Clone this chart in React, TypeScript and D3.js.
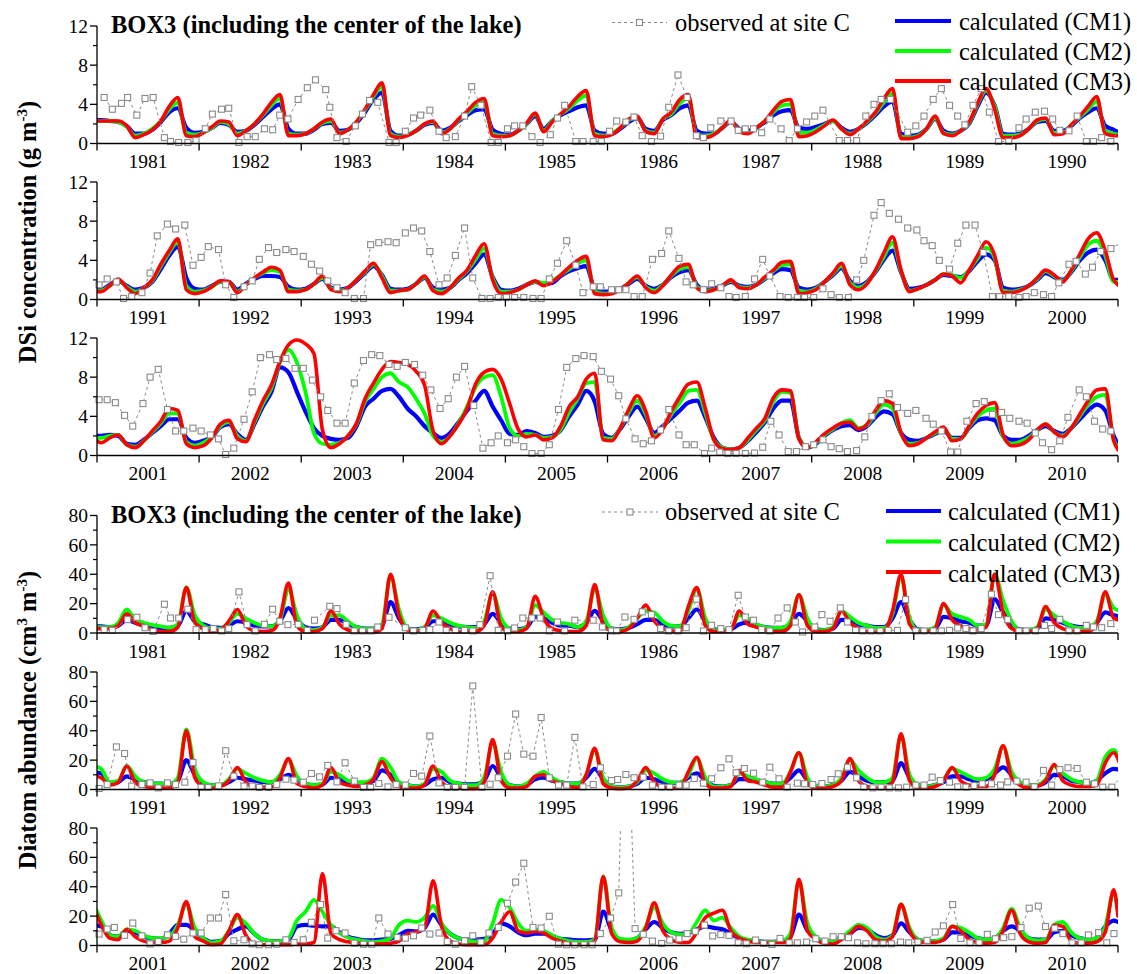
import React from "react";
import * as d3 from "d3";

// ---------- layout ----------
const W = 1137;
const H = 974;
const X0 = 97;
const X1 = 1118;
const PH = 117.5;
const FONT = '"Liberation Serif", "Times New Roman", Times, serif';
const BLUE = "#0000ff";
const GREEN = "#00ff00";
const RED = "#ff0000";
const OBS = "#8a8a8a";

// ---------- data ----------
const START_YEAR = 1981;
const END_YEAR = 2011;
const decadeStarts = [1981, 1991, 2001];
const dsiPanelTops = [26, 182, 338];
const diaPanelTops = [515.5, 672, 828];

const dsiTicks = [0, 4, 8, 12];
const dsiMinorTicks = [2, 6, 10];
const diaTicks = [0, 20, 40, 60, 80];
const diaMinorTicks = [10, 30, 50, 70];

// DSi concentration (g m-3), monthly Jan..Dec, 1981-2010
const dsiCM1 = [
  2.4, 2.3, 2.2, 1.8, 1.0, 1.0, 1.4, 2.2, 3.2, 3.6, 1.6, 1.1,
  1.2, 1.6, 2.1, 1.9, 1.2, 1.3, 1.9, 2.7, 3.5, 4.0, 1.5, 1.0,
  1.0, 1.4, 2.0, 2.1, 1.3, 1.4, 2.1, 3.2, 4.5, 5.2, 1.3, 0.8,
  0.9, 1.3, 1.9, 2.1, 1.3, 1.6, 2.3, 2.9, 3.4, 3.5, 1.4, 1.0,
  0.9, 1.3, 2.0, 2.8, 1.5, 2.3, 2.9, 3.3, 3.7, 3.9, 1.3, 1.0,
  1.0, 1.5, 2.2, 2.6, 1.5, 1.3, 2.4, 2.9, 3.6, 3.9, 1.3, 1.0,
  1.0, 1.6, 2.2, 1.5, 1.3, 1.6, 2.2, 2.9, 3.3, 3.4, 1.6, 1.5,
  1.7, 2.0, 2.3, 1.6, 1.2, 1.5, 2.1, 2.9, 3.8, 4.3, 1.0, 0.8,
  0.9, 1.5, 2.5, 1.3, 1.0, 1.3, 2.0, 3.8, 5.2, 3.9, 1.0, 0.9,
  1.0, 1.5, 2.2, 2.3, 1.3, 1.3, 1.8, 2.6, 3.2, 3.6, 1.8, 1.4,
  1.0, 1.5, 1.9, 1.4, 1.0, 1.2, 1.8, 3.1, 4.5, 5.4, 2.2, 1.1,
  1.0, 1.4, 1.8, 1.8, 1.0, 1.6, 2.1, 2.4, 2.4, 2.3, 1.3, 1.0,
  1.1, 1.6, 2.1, 1.2, 1.0, 1.2, 1.9, 2.7, 3.4, 2.5, 1.1, 1.0,
  1.1, 1.6, 2.2, 1.2, 1.0, 1.2, 2.0, 2.7, 3.7, 4.6, 2.3, 1.0,
  0.9, 1.1, 1.5, 1.8, 1.6, 1.7, 2.4, 2.9, 3.2, 3.4, 1.1, 0.8,
  0.8, 1.1, 1.6, 2.1, 1.4, 1.1, 1.5, 2.3, 2.8, 3.0, 1.5, 1.0,
  1.1, 1.4, 1.8, 1.4, 1.3, 1.5, 2.1, 2.7, 3.1, 3.0, 1.2, 1.0,
  1.2, 1.8, 2.5, 3.2, 1.9, 1.4, 1.8, 2.8, 4.1, 5.0, 2.8, 1.1,
  1.2, 1.5, 2.0, 2.5, 2.4, 2.3, 2.9, 3.9, 4.6, 4.0, 1.2, 1.0,
  1.1, 1.4, 2.0, 2.7, 2.3, 2.0, 2.8, 4.0, 4.8, 5.1, 4.0, 2.0,
  2.0, 2.1, 2.0, 1.2, 1.1, 1.6, 2.3, 3.0, 3.7, 3.7, 1.8, 1.3,
  1.5, 1.9, 2.9, 3.2, 2.2, 1.6, 3.2, 5.0, 6.5, 9.0, 8.5, 6.5,
  4.5, 2.8, 2.0, 1.7, 1.6, 1.8, 3.0, 5.0, 5.8, 6.6, 6.8, 6.0,
  4.8, 4.0, 3.0, 2.3, 1.8, 2.3, 3.4, 4.6, 5.6, 6.6, 5.0, 3.6,
  2.2, 2.1, 2.5, 2.3, 1.9, 2.0, 2.6, 4.0, 5.2, 6.6, 5.5, 2.2,
  1.8, 2.7, 4.0, 5.0, 3.8, 2.3, 3.0, 3.8, 4.6, 5.4, 5.6, 3.9,
  1.8, 0.8, 0.6, 0.8, 1.5, 2.4, 3.4, 4.8, 5.6, 5.6, 1.8, 0.8,
  1.2, 2.0, 2.6, 3.0, 3.1, 2.6, 3.0, 3.9, 4.5, 4.2, 2.3, 1.6,
  1.5, 1.8, 2.2, 2.6, 1.8, 1.8, 2.8, 3.6, 3.8, 3.6, 2.0, 1.6,
  1.6, 2.0, 2.6, 3.0, 2.5, 2.2, 2.8, 3.7, 4.6, 5.2, 4.6, 2.0,
];
const dsiCM2 = [
  2.3, 2.3, 2.2, 1.7, 0.8, 1.0, 1.5, 2.3, 3.5, 4.2, 1.1, 0.9,
  1.1, 1.6, 2.2, 2.0, 1.0, 1.3, 2.0, 2.9, 3.9, 4.6, 1.0, 0.9,
  1.0, 1.5, 2.1, 2.3, 1.1, 1.4, 2.2, 3.4, 4.8, 5.8, 1.0, 0.7,
  0.9, 1.3, 2.0, 2.2, 1.1, 1.5, 2.4, 3.1, 3.9, 4.2, 1.0, 0.8,
  0.8, 1.3, 2.0, 3.0, 1.3, 2.3, 3.0, 3.6, 4.4, 4.9, 1.0, 0.8,
  1.0, 1.6, 2.4, 2.7, 1.3, 1.1, 2.5, 3.0, 4.1, 4.6, 0.9, 0.8,
  1.0, 1.6, 2.3, 1.3, 1.1, 1.6, 2.3, 3.2, 3.9, 4.0, 1.1, 1.1,
  1.4, 1.9, 2.3, 1.5, 1.0, 1.5, 2.2, 3.1, 4.2, 5.1, 0.7, 0.6,
  0.8, 1.5, 2.6, 1.1, 0.9, 1.3, 2.1, 4.0, 5.4, 3.8, 0.8, 0.8,
  0.9, 1.5, 2.3, 2.5, 1.1, 1.1, 1.9, 2.7, 3.5, 4.3, 1.3, 1.0,
  0.9, 1.4, 2.0, 1.3, 0.8, 1.2, 1.9, 3.4, 4.8, 5.9, 1.4, 0.8,
  0.9, 1.3, 1.8, 1.8, 0.8, 1.5, 2.2, 2.7, 3.0, 2.8, 1.0, 0.9,
  1.0, 1.6, 2.2, 1.1, 0.9, 1.2, 2.0, 2.8, 3.6, 2.4, 0.9, 0.9,
  1.0, 1.6, 2.3, 1.0, 0.8, 1.2, 2.1, 2.9, 4.1, 5.2, 2.2, 0.8,
  0.8, 1.0, 1.5, 1.8, 1.7, 1.9, 2.5, 3.1, 3.7, 4.0, 0.8, 0.6,
  0.7, 1.0, 1.7, 2.3, 1.3, 0.9, 1.5, 2.4, 3.1, 3.3, 1.3, 0.9,
  1.0, 1.4, 1.9, 1.3, 1.2, 1.5, 2.2, 2.9, 3.5, 3.6, 0.9, 0.8,
  1.1, 1.8, 2.6, 3.4, 1.7, 1.2, 1.7, 2.9, 4.4, 5.8, 2.9, 0.9,
  1.1, 1.5, 2.0, 2.6, 2.5, 2.2, 3.0, 4.2, 5.3, 4.2, 0.9, 0.8,
  1.0, 1.4, 2.1, 2.9, 2.4, 1.9, 2.9, 4.3, 5.6, 6.0, 4.5, 1.8,
  1.8, 2.0, 2.1, 1.1, 0.9, 1.5, 2.4, 3.3, 4.3, 4.3, 1.4, 1.0,
  1.3, 1.9, 3.0, 3.4, 2.0, 1.5, 3.4, 5.3, 6.9, 9.5, 10.8, 9.5,
  6.5, 2.3, 1.2, 1.1, 1.3, 2.0, 3.2, 5.5, 6.8, 8.0, 8.4, 7.5,
  7.0, 5.8, 4.3, 2.0, 1.4, 2.0, 3.3, 5.0, 7.0, 8.0, 8.2, 6.0,
  2.8, 2.0, 2.2, 2.1, 1.8, 1.9, 2.7, 4.4, 5.8, 7.4, 7.5, 1.8,
  1.7, 2.8, 4.4, 5.6, 4.2, 2.0, 2.8, 4.2, 5.4, 6.6, 6.7, 4.3,
  1.6, 0.8, 0.6, 0.8, 1.6, 2.6, 3.6, 5.5, 6.5, 6.4, 1.8, 0.8,
  1.3, 2.1, 2.7, 3.3, 3.6, 2.8, 3.1, 4.3, 5.2, 4.8, 2.2, 1.2,
  1.3, 1.8, 2.3, 2.8, 1.7, 1.7, 2.9, 4.0, 4.6, 4.8, 1.9, 1.2,
  1.4, 1.8, 2.6, 3.2, 2.4, 2.0, 2.8, 4.0, 5.2, 6.0, 6.2, 1.6,
];
const dsiCM3 = [
  2.3, 2.3, 2.3, 1.8, 0.6, 0.9, 1.4, 2.3, 3.8, 4.7, 0.8, 0.7,
  1.1, 1.7, 2.3, 2.2, 0.8, 1.3, 2.0, 3.0, 4.2, 5.0, 0.8, 0.8,
  1.0, 1.5, 2.2, 2.5, 1.0, 1.4, 2.2, 3.5, 5.0, 6.2, 0.8, 0.6,
  0.8, 1.3, 2.0, 2.3, 1.0, 1.5, 2.5, 3.3, 4.2, 4.6, 0.8, 0.7,
  0.8, 1.3, 2.1, 3.1, 1.2, 2.2, 3.0, 3.8, 4.8, 5.4, 0.8, 0.7,
  0.9, 1.6, 2.5, 2.8, 1.2, 1.0, 2.5, 3.2, 4.5, 5.0, 0.6, 0.6,
  0.9, 1.6, 2.4, 1.2, 1.0, 1.6, 2.3, 3.4, 4.3, 4.5, 0.7, 0.8,
  1.2, 1.8, 2.4, 1.5, 0.9, 1.5, 2.3, 3.2, 4.6, 5.6, 0.5, 0.5,
  0.7, 1.5, 2.8, 1.0, 0.8, 1.3, 2.2, 4.1, 5.6, 3.5, 0.6, 0.6,
  0.8, 1.5, 2.4, 2.6, 0.9, 1.0, 1.9, 2.8, 3.8, 4.8, 1.0, 0.8,
  0.8, 1.4, 2.1, 1.2, 0.6, 1.2, 2.0, 3.6, 5.0, 6.2, 1.0, 0.6,
  0.8, 1.3, 1.9, 1.8, 0.7, 1.5, 2.2, 2.8, 3.3, 3.0, 0.8, 0.8,
  1.0, 1.6, 2.4, 1.0, 0.8, 1.2, 2.0, 2.9, 3.7, 2.2, 0.7, 0.9,
  1.0, 1.6, 2.4, 0.9, 0.6, 1.2, 2.2, 3.0, 4.5, 5.7, 2.0, 0.6,
  0.7, 1.0, 1.5, 1.9, 1.4, 1.8, 2.5, 3.3, 4.0, 4.4, 0.6, 0.5,
  0.6, 1.0, 1.7, 2.4, 1.2, 0.7, 1.4, 2.5, 3.4, 3.6, 1.2, 0.8,
  1.0, 1.4, 2.0, 1.2, 1.1, 1.5, 2.3, 3.0, 3.8, 3.9, 0.6, 0.7,
  1.0, 1.8, 2.7, 3.7, 1.5, 1.0, 1.6, 3.0, 4.8, 6.4, 3.0, 0.8,
  1.1, 1.5, 2.0, 2.6, 2.4, 1.7, 3.0, 4.5, 5.9, 4.5, 0.7, 0.7,
  0.9, 1.4, 2.2, 3.0, 2.5, 1.8, 3.0, 4.6, 6.2, 6.8, 5.0, 2.0,
  1.3, 1.8, 2.1, 1.1, 0.8, 1.5, 2.5, 3.5, 4.8, 4.6, 1.2, 0.8,
  1.0, 1.8, 3.2, 3.6, 1.7, 1.4, 3.6, 5.6, 7.2, 9.6, 11.3, 11.8,
  11.4, 10.4, 2.6, 0.8, 1.2, 2.0, 3.3, 5.8, 7.4, 8.8, 9.6, 9.5,
  9.3, 8.6, 7.2, 2.5, 1.2, 2.0, 3.2, 4.8, 7.3, 8.5, 8.8, 7.8,
  5.3, 2.7, 1.9, 2.1, 1.6, 1.8, 3.0, 5.0, 6.0, 7.8, 8.4, 1.6,
  1.5, 2.8, 4.7, 6.1, 4.5, 1.8, 2.7, 4.5, 6.0, 7.3, 7.5, 4.8,
  1.6, 0.7, 0.6, 0.8, 1.8, 2.8, 3.8, 5.9, 6.7, 6.6, 1.7, 0.8,
  1.4, 2.2, 2.8, 3.3, 3.4, 2.7, 3.2, 4.6, 5.6, 5.3, 2.3, 1.0,
  1.2, 1.8, 2.4, 2.9, 1.5, 1.7, 3.0, 4.3, 5.1, 5.4, 2.1, 1.0,
  1.1, 1.6, 2.6, 3.2, 2.4, 1.9, 2.8, 4.2, 5.6, 6.7, 6.8, 1.5,
];
// value at the right end of the axis (end of 2010) for CM1, CM2, CM3
const dsiAxisEnd = [1.1, 0.8, 0.6];

// Diatom abundance (cm3 m-3), monthly Jan..Dec, 1981-2010
const diaCM1 = [
  4.5, 4, 5, 9, 7, 5, 4, 3.5, 3.5, 5, 15, 8,
  6, 4, 3.5, 5, 8, 7, 5, 4.5, 4.5, 8, 17, 9,
  4, 3, 4, 9, 9, 6, 4, 3, 3, 5, 21, 10,
  3, 2.5, 3.5, 8, 8, 6, 4.5, 4, 4, 6, 13, 7,
  3, 2.5, 4, 11, 10, 7, 5, 5, 4, 7, 15, 8,
  3, 2.5, 3.5, 6, 9, 9, 6, 4.5, 4.5, 10, 16, 8,
  2.5, 2, 2.5, 6, 7, 5.5, 4, 3.5, 3.5, 6, 13, 8,
  2.5, 2, 3, 9, 9, 6, 5, 4, 4, 10, 21, 9,
  2.5, 2, 3, 11, 10, 8, 7, 5, 5, 23, 14, 6,
  2.5, 2, 3, 10, 9, 7, 5, 4, 4, 7, 14, 12,
  11, 4, 5, 9, 7, 5, 4, 4, 3.5, 6, 20, 10,
  4, 3, 3, 5, 8, 7, 6, 5, 5, 7, 10, 7,
  4, 3, 3.5, 8, 7, 5, 4, 4, 6, 13, 10, 4,
  3, 2, 3, 7, 8, 5, 4, 3.5, 3.5, 6, 16, 8,
  3, 2, 3, 7, 8, 6, 5, 4, 4, 8, 14, 7,
  2, 1.5, 2, 4, 8, 7, 5, 4.5, 4.5, 8, 11, 6,
  2.5, 2, 3, 7, 7, 6, 5, 4, 4, 8, 13, 6,
  2, 2, 3, 6, 12, 9, 6, 5, 5, 6, 18, 8,
  3, 2, 3, 5, 9, 9, 7, 6, 7, 11, 15, 10,
  4, 3, 3, 5, 10, 9, 6, 5, 4, 6, 11, 14,
  13, 7, 6, 10, 9, 6, 5, 4.5, 8, 14, 14, 10,
  5, 2.5, 3, 8, 11, 13, 8, 4, 3, 3, 4, 13,
  14, 13.5, 13, 13, 9, 6, 4.5, 3.5, 3.5, 4, 4.5, 7,
  10, 9.5, 12, 21, 14, 8, 5, 4, 4, 4.5, 8, 15,
  13, 9, 7, 8, 8, 6, 4.5, 4, 3.5, 3.5, 4, 23,
  10, 4, 3.5, 5, 11, 16, 12, 9, 8, 8.5, 11, 13,
  12, 11, 8, 5, 3.5, 3, 2.5, 2.5, 3, 6, 21, 10,
  5, 3, 3, 5, 8, 12, 11, 7, 5, 7, 15, 9,
  4, 3, 3, 4, 9, 9, 7, 5, 4, 5, 10, 13,
  10, 5, 4, 4, 9, 10, 7, 5, 4, 5, 13, 17,
];
const diaCM2 = [
  4, 4, 7, 16, 9, 7, 5.5, 4.5, 3.5, 6, 31, 12,
  5, 3, 3, 7, 13, 10, 7, 5, 4.5, 9, 30, 12,
  3, 2, 4, 12, 12, 8, 4, 3, 3, 6, 39, 16,
  3, 2, 4, 12, 10, 7, 5, 4, 3.5, 8, 27, 10,
  3, 2, 4, 19, 14, 9, 7, 6, 4, 8, 30, 12,
  3, 2, 4, 10, 15, 14, 8, 5, 4.5, 15, 30, 10,
  2, 2, 3, 12, 10, 6, 4, 3.5, 3.5, 8, 26, 10,
  2, 2, 4, 15, 11, 7, 5, 3.5, 3.5, 13, 38, 10,
  2, 2, 4, 19, 13, 11, 9, 5, 6, 40, 22, 8,
  2, 2, 4, 16, 12, 8, 5, 3.5, 3.5, 8, 26, 17,
  14, 5, 6, 16, 9, 5, 4, 4, 3.5, 8, 41, 14,
  5, 3, 3, 7, 14, 11, 8, 6, 5, 10, 20, 9,
  4, 3, 4, 12, 10, 6, 5, 5, 8, 21, 15, 5,
  3, 2, 4, 14, 12, 6, 4, 3, 3, 8, 32, 12,
  3, 2, 4, 9, 12, 8, 5, 4, 4, 10, 27, 8,
  2, 1.5, 2, 5, 13, 11, 7, 5, 4.5, 10, 21, 8,
  2, 2, 3, 11, 9, 7, 5, 4, 4, 12, 25, 8,
  2, 2, 3, 8, 20, 13, 8, 5, 5, 8, 37, 10,
  3, 2, 3, 7, 14, 12, 9, 7, 8, 14, 29, 12,
  5, 3, 3, 7, 16, 11, 7, 5, 4, 6, 22, 27,
  17, 7, 6, 11, 10, 7, 5, 5, 6, 14, 28, 12,
  5, 2, 3, 10, 19, 15, 8, 4, 3, 3, 5, 17,
  23, 31, 23, 14, 8.5, 5.5, 4, 3, 2.5, 3, 5, 14,
  17, 16, 19, 27, 15, 8, 5, 3.5, 2.5, 3, 15, 31,
  26, 15, 10, 11, 10, 7, 4.5, 3, 2.5, 2.5, 4, 47,
  12, 4.5, 4, 5, 13, 26, 15, 9, 7.5, 8, 16, 24,
  17, 19, 12, 6, 4, 3, 2.5, 2.5, 3, 8, 44, 15,
  6, 3, 3, 5, 10, 14, 12, 6, 4, 7, 28, 12,
  4, 3, 3, 5, 13, 12, 9, 5, 4, 5, 12, 25,
  12, 5, 3.5, 4, 14, 16, 9, 5, 4, 5, 13, 36,
];
const diaCM3 = [
  3, 3, 5, 13, 7, 5, 2, 1, 1, 4, 31, 7,
  3, 1, 2, 8, 16, 5, 1.5, 1, 1.5, 10, 34, 5,
  1, 1, 3, 15, 6, 2, 1, 0.5, 0.5, 3, 40, 12,
  2, 1, 3, 15, 7, 3, 1, 1, 1, 5, 28, 4,
  1, 1, 3, 25, 10, 3, 1.5, 1, 1, 5, 33, 5,
  1.5, 1, 3, 10, 19, 8, 3, 1.5, 1, 18, 31, 5,
  1, 1, 2, 15, 6, 4, 2, 1, 1, 5, 26, 5,
  1, 1, 3, 15, 7, 3, 1, 0.5, 1, 15, 40, 6,
  1, 1, 3, 20, 9, 5, 3, 2, 4, 40, 14, 3,
  1, 1, 3, 18, 7, 3, 1.5, 1, 1, 6, 28, 10,
  8, 3, 5, 16, 5, 2, 1.5, 1, 1, 5, 40, 8,
  2, 1, 2, 6, 15, 5, 2, 1.5, 1.5, 8, 21, 4,
  2, 1, 3, 15, 5, 3, 2, 3, 7, 19, 8, 2,
  1, 1, 3, 16, 5, 1.5, 1, 0.5, 0.5, 5, 34, 6,
  1, 1, 2, 9, 10, 6, 4, 2, 1, 10, 28, 4,
  1, 0.5, 1, 6, 15, 5, 1.5, 1, 1, 12, 22, 4,
  1, 1, 2, 13, 6, 5, 3, 1.5, 1.5, 12, 25, 4,
  1, 1, 2, 6, 21, 6, 2, 1, 1, 5, 38, 6,
  1, 1, 2, 6, 15, 6, 3, 2, 2, 10, 30, 8,
  3, 1, 2, 6, 17, 6, 3, 2, 2, 3, 18, 25,
  14, 5, 4, 11, 6, 3, 2, 2, 3, 12, 30, 6,
  3, 0.5, 1, 10, 21, 7, 1, 0.5, 0.5, 0.5, 0.5, 1,
  1, 2, 49, 8, 4, 2.5, 1.5, 1, 1, 1, 1.5, 3,
  8, 9, 12, 44, 13, 3, 1, 0.5, 0.5, 0.5, 5, 16,
  23, 10, 8.5, 9.5, 8.5, 5, 3, 1.5, 0.5, 0.5, 3, 47,
  8, 2.5, 2, 3, 12, 29, 10, 4, 2, 2, 9, 19,
  22, 24, 10, 5, 3, 2, 2, 2, 2, 5, 45, 10,
  4, 1.5, 1, 4, 8, 13, 10, 4, 3, 6, 28, 10,
  3, 2, 2, 4, 13, 10, 4, 2, 1.5, 2, 10, 24,
  8, 2.5, 1.5, 2, 14, 13, 3, 1.5, 1.5, 2.5, 9, 38,
];
const diaAxisEnd = [16, 22, 20];

// observed at site C: [decimal year, value]
const dsiObs: [number, number][] = [
  [1981.07, 4.7], [1981.15, 3.5], [1981.24, 4.1], [1981.30, 4.7], [1981.39, 2.9], [1981.47, 4.6], [1981.55, 4.7], [1981.66, 0.6], [1981.72, 0.2], [1981.80, 0.1], [1981.89, 0.1], [1981.97, 0.3],
  [1982.06, 1.5], [1982.13, 3.0], [1982.22, 3.5], [1982.29, 3.6], [1982.39, 0.1], [1982.47, 0.7], [1982.55, 0.7], [1982.64, 1.5], [1982.72, 1.4], [1982.79, 2.9], [1982.87, 2.5], [1982.97, 4.5],
  [1983.06, 5.7], [1983.14, 6.5], [1983.24, 5.5], [1983.28, 3.7], [1983.35, 0.6], [1983.44, 0.2], [1983.53, 1.8], [1983.60, 3.0], [1983.67, 4.4], [1983.75, 4.2], [1983.86, 0.1], [1983.93, 0.1],
  [1984.02, 1.25], [1984.10, 2.6], [1984.17, 2.9], [1984.26, 3.4], [1984.35, 1.25], [1984.42, 0.6], [1984.51, 0.7], [1984.60, 2.8], [1984.67, 5.8], [1984.76, 3.9], [1984.86, 0.1], [1984.93, 0.1],
  [1985.02, 1.5], [1985.09, 1.8], [1985.17, 1.8], [1985.26, 0.7], [1985.34, 0.1], [1985.44, 0.9], [1985.51, 2.6], [1985.58, 3.9], [1985.69, 0.2], [1985.76, 0.2], [1985.86, 0.2], [1985.94, 0.2],
  [1986.02, 1.25], [1986.09, 2.3], [1986.18, 2.2], [1986.26, 2.7], [1986.34, 0.8], [1986.43, 0.2], [1986.52, 0.75], [1986.60, 3.7], [1986.69, 7.0], [1986.78, 4.7], [1986.87, 0.8], [1986.94, 0.6],
  [1987.01, 1.6], [1987.11, 2.3], [1987.21, 2.3], [1987.28, 1.35], [1987.35, 1.5], [1987.43, 1.5], [1987.51, 1.1], [1987.59, 2.5], [1987.70, 1.5], [1987.78, 0.3], [1987.86, 1.5], [1987.95, 2.2],
  [1988.03, 2.8], [1988.11, 3.4], [1988.27, 0.3], [1988.35, 0.3], [1988.44, 0.3], [1988.53, 2.8], [1988.61, 4.0], [1988.68, 4.5], [1988.77, 4.5], [1988.94, 1.15],
  [1989.02, 1.8], [1989.10, 2.8], [1989.19, 4.5], [1989.27, 5.6], [1989.35, 3.9], [1989.43, 2.8], [1989.50, 1.9], [1989.58, 3.9], [1989.66, 5.6], [1989.74, 3.2], [1989.83, 0.2], [1989.93, 0.2],
  [1990.03, 1.6], [1990.10, 2.5], [1990.19, 3.2], [1990.28, 3.3], [1990.36, 2.5], [1990.43, 1.35], [1990.52, 1.3], [1990.60, 2.8], [1990.69, 0.2], [1990.76, 0.2], [1990.84, 0.6], [1990.93, 0.2],
  [1991.02, 1.5], [1991.10, 2.1], [1991.19, 1.8], [1991.26, 0.1], [1991.34, 0.3], [1991.44, 0.7], [1991.52, 2.7], [1991.59, 6.5], [1991.69, 7.7], [1991.77, 7.2], [1991.86, 7.6], [1991.94, 3.5],
  [1992.02, 4.3], [1992.09, 5.4], [1992.19, 5.1], [1992.26, 1.5], [1992.34, 0.2], [1992.44, 1.3], [1992.52, 1.9], [1992.59, 4.1], [1992.68, 5.3], [1992.76, 4.8], [1992.85, 5.1], [1992.93, 4.9],
  [1993.02, 4.4], [1993.10, 3.6], [1993.18, 2.9], [1993.26, 1.9], [1993.35, 1.2], [1993.43, 0.7], [1993.52, 0.1], [1993.61, 0.1], [1993.68, 5.6], [1993.76, 5.8], [1993.85, 5.9], [1993.93, 5.8],
  [1994.02, 6.8], [1994.10, 7.3], [1994.18, 7.0], [1994.26, 4.9], [1994.35, 1.5], [1994.43, 2.2], [1994.51, 4.5], [1994.60, 7.3], [1994.68, 2.2], [1994.77, 0.1], [1994.85, 0.1], [1994.93, 0.2],
  [1995.01, 0.2], [1995.09, 0.2], [1995.18, 0.2], [1995.27, 0.1], [1995.35, 0.1], [1995.43, 2.1], [1995.51, 3.7], [1995.60, 6.0], [1995.69, 3.5], [1995.76, 0.7], [1995.86, 1.3], [1995.93, 1.3],
  [1996.04, 1.0], [1996.11, 1.0], [1996.18, 1.0], [1996.26, 0.3], [1996.34, 0.3], [1996.44, 4.1], [1996.53, 4.7], [1996.60, 7.0], [1996.70, 4.2], [1996.77, 1.8], [1996.84, 1.5], [1996.94, 1.0],
  [1997.02, 1.6], [1997.11, 1.2], [1997.19, 0.3], [1997.26, 0.2], [1997.35, 0.3], [1997.44, 2.1], [1997.52, 4.1], [1997.59, 2.4], [1997.69, 0.3], [1997.77, 0.2], [1997.86, 0.2], [1997.93, 0.2],
  [1998.02, 0.2], [1998.11, 1.1], [1998.19, 0.5], [1998.27, 0.2], [1998.36, 0.2], [1998.44, 2.0], [1998.51, 4.0], [1998.61, 8.6], [1998.68, 9.9], [1998.76, 8.8], [1998.85, 8.2], [1998.94, 7.3],
  [1999.03, 7.1], [1999.10, 6.0], [1999.18, 5.5], [1999.25, 4.0], [1999.35, 3.1], [1999.43, 5.75], [1999.51, 7.6], [1999.60, 7.6], [1999.68, 4.8], [1999.77, 0.3], [1999.84, 0.3], [1999.93, 0.3],
  [2000.03, 0.2], [2000.10, 0.3], [2000.18, 0.7], [2000.27, 0.5], [2000.35, 0.3], [2000.42, 1.7], [2000.52, 3.6], [2000.59, 3.9], [2000.68, 2.6], [2000.75, 3.3], [2000.83, 4.9], [2000.93, 5.2],
  [2001.02, 5.7], [2001.10, 5.7], [2001.18, 5.4], [2001.27, 4.1], [2001.35, 3.0], [2001.45, 5.3], [2001.52, 8.0], [2001.60, 8.8], [2001.69, 4.7], [2001.77, 2.5], [2001.85, 2.5], [2001.94, 2.8],
  [2002.02, 2.5], [2002.11, 2.1], [2002.19, 1.7], [2002.26, 0.1], [2002.34, 0.75], [2002.44, 3.7], [2002.52, 6.5], [2002.60, 10.0], [2002.69, 10.3], [2002.76, 9.8], [2002.85, 9.9], [2002.94, 8.9],
  [2003.02, 8.9], [2003.11, 7.7], [2003.19, 6.0], [2003.26, 4.6], [2003.35, 3.3], [2003.43, 3.3], [2003.52, 7.4], [2003.61, 9.7], [2003.69, 10.3], [2003.77, 10.2], [2003.86, 9.3], [2003.94, 9.1],
  [2004.02, 9.5], [2004.11, 9.3], [2004.19, 8.2], [2004.27, 6.7], [2004.36, 4.8], [2004.44, 5.8], [2004.52, 8.0], [2004.60, 9.1], [2004.69, 5.1], [2004.78, 0.75], [2004.86, 1.3], [2004.93, 2.0],
  [2005.02, 1.3], [2005.10, 1.6], [2005.18, 0.9], [2005.26, 0.2], [2005.35, 0.2], [2005.43, 1.1], [2005.52, 4.7], [2005.60, 9.0], [2005.69, 9.9], [2005.77, 10.2], [2005.86, 10.1], [2005.94, 8.6],
  [2006.03, 7.8], [2006.11, 6.1], [2006.18, 3.75], [2006.27, 1.7], [2006.35, 1.2], [2006.43, 1.5], [2006.52, 2.6], [2006.60, 4.7], [2006.70, 2.1], [2006.77, 1.1], [2006.85, 1.1], [2006.95, 0.2],
  [2007.02, 0.75], [2007.10, 0.35], [2007.18, 0.2], [2007.26, 0.2], [2007.35, 0.2], [2007.44, 0.25], [2007.52, 0.85], [2007.60, 3.5], [2007.68, 2.1], [2007.77, 0.4], [2007.85, 0.4], [2007.94, 0.9],
  [2008.02, 1.1], [2008.11, 1.6], [2008.19, 0.9], [2008.27, 0.7], [2008.35, 0.4], [2008.44, 0.5], [2008.52, 1.9], [2008.59, 4.0], [2008.68, 5.6], [2008.76, 6.3], [2008.84, 4.9], [2008.94, 4.3],
  [2009.02, 4.6], [2009.12, 3.8], [2009.19, 3.2], [2009.27, 2.5], [2009.36, 0.35], [2009.43, 0.35], [2009.52, 3.5], [2009.61, 5.3], [2009.69, 5.5], [2009.77, 4.2], [2009.86, 4.4], [2009.94, 3.8],
  [2010.03, 3.5], [2010.11, 3.3], [2010.19, 2.3], [2010.26, 1.3], [2010.35, 0.6], [2010.43, 1.5], [2010.51, 3.9], [2010.62, 6.7], [2010.69, 6.0], [2010.77, 3.5], [2010.85, 2.7], [2010.93, 2.5],
];

const diaObs: [number, number][] = [
  [1981.07, 2.3], [1981.15, 1.8], [1981.30, 9.1], [1981.39, 10.7], [1981.47, 3.6], [1981.55, 1.1], [1981.66, 19.6], [1981.72, 10.2], [1981.80, 10.2], [1981.89, 16.2], [1981.97, 2.3],
  [1982.06, 2.3], [1982.14, 3.0], [1982.22, 1.4], [1982.29, 3.0], [1982.39, 28], [1982.47, 5.7], [1982.55, 1.4], [1982.64, 5.9], [1982.72, 16.2], [1982.79, 8.0], [1982.87, 5.7], [1982.97, 5.9],
  [1983.06, 1.8], [1983.13, 8.7], [1983.28, 18.2], [1983.35, 16.6], [1983.44, 5.9], [1983.52, 1.4], [1983.60, 1.4], [1983.68, 1.4], [1983.75, 4.1], [1983.86, 10.7],
  [1984.02, 3.6], [1984.10, 1.4], [1984.19, 1.8], [1984.26, 2.3], [1984.35, 7.5], [1984.42, 1.8], [1984.51, 1.8], [1984.60, 1.8], [1984.68, 1.4], [1984.75, 5.7], [1984.85, 39], [1984.93, 1.8],
  [1985.02, 1.4], [1985.09, 3.4], [1985.17, 10.2], [1985.26, 10.2], [1985.34, 10.2], [1985.43, 1.4], [1985.51, 7.5], [1985.58, 1.4], [1985.68, 8.7], [1985.86, 8.7], [1985.95, 4.1],
  [1986.04, 1.4], [1986.09, 1.4], [1986.17, 10.9], [1986.26, 9.3], [1986.34, 14.4], [1986.43, 12.5], [1986.52, 3.0], [1986.60, 1.4], [1986.69, 1.4], [1986.77, 3.6], [1986.87, 23], [1986.94, 1.4],
  [1987.02, 5.2], [1987.11, 3.0], [1987.19, 2.3], [1987.28, 25.7], [1987.35, 10.9], [1987.43, 8.7], [1987.51, 2.3], [1987.59, 1.4], [1987.67, 10.2], [1987.76, 17.1], [1987.84, 7.5], [1987.91, 0.7],
  [1988.03, 4.1], [1988.10, 12.5], [1988.18, 8.0], [1988.28, 17.1], [1988.35, 7.5], [1988.43, 1.8], [1988.50, 1.4], [1988.58, 1.4], [1988.67, 1.4], [1988.75, 1.8], [1988.84, 1.8], [1988.92, 22.8],
  [1989.02, 1.4], [1989.10, 1.4], [1989.19, 1.4], [1989.27, 1.4], [1989.35, 1.8], [1989.43, 3.4], [1989.51, 3.0], [1989.58, 1.4], [1989.66, 3.0], [1989.76, 26.4], [1989.83, 12.5], [1989.92, 9.1],
  [1990.03, 1.4], [1990.10, 1.4], [1990.19, 1.4], [1990.28, 5.2], [1990.35, 3.0], [1990.43, 9.3], [1990.52, 1.4], [1990.60, 1.4], [1990.69, 5.2], [1990.76, 4.1], [1990.84, 3.6], [1990.93, 6.4],
  [1991.02, 0.7], [1991.10, 3.4], [1991.19, 29], [1991.27, 24.5], [1991.34, 2.3], [1991.44, 3.4], [1991.52, 4.5], [1991.60, 1.1], [1991.69, 4.5], [1991.77, 3.4], [1991.86, 5.0], [1991.94, 18.4],
  [1992.02, 1.4], [1992.09, 1.4], [1992.19, 2.5], [1992.26, 26.4], [1992.34, 9.1], [1992.44, 2.3], [1992.52, 2.3], [1992.59, 1.4], [1992.68, 1.4], [1992.76, 3.4], [1992.85, 7.0], [1992.93, 6.4],
  [1993.02, 5.0], [1993.10, 10.9], [1993.18, 8.6], [1993.26, 16.4], [1993.35, 5.2], [1993.43, 18.2], [1993.52, 5.7], [1993.61, 1.4], [1993.68, 1.4], [1993.76, 4.1], [1993.85, 1.8], [1993.93, 3.4],
  [1994.02, 3.0], [1994.10, 10.9], [1994.18, 9.1], [1994.26, 36.4], [1994.35, 4.5], [1994.43, 1.4], [1994.51, 1.4], [1994.60, 1.4], [1994.68, 70.5], [1994.77, 1.4], [1994.85, 3.6], [1994.93, 8.0],
  [1995.02, 22.7], [1995.10, 51.4], [1995.18, 24.1], [1995.27, 22.7], [1995.35, 49], [1995.43, 8.0], [1995.52, 3.0], [1995.60, 3.0], [1995.68, 35.5], [1995.76, 1.8], [1995.86, 3.4], [1995.93, 14.8],
  [1996.04, 6.1], [1996.10, 6.8], [1996.18, 10.2], [1996.26, 8.0], [1996.35, 8.4], [1996.44, 3.0], [1996.53, 1.6], [1996.61, 1.6], [1996.70, 3.0], [1996.77, 3.0], [1996.85, 7.5], [1996.94, 4.3],
  [1997.02, 7.3], [1997.11, 14.8], [1997.19, 20.9], [1997.26, 11.4], [1997.34, 14.3], [1997.43, 11.1], [1997.52, 5.0], [1997.59, 15.2], [1997.68, 7.3], [1997.76, 1.6], [1997.86, 4.3], [1997.93, 3.9],
  [1998.01, 3.4], [1998.10, 4.1], [1998.19, 6.8], [1998.26, 10.7], [1998.35, 15.2], [1998.44, 8.0], [1998.51, 1.6], [1998.60, 1.1], [1998.68, 1.6], [1998.76, 1.1], [1998.85, 1.1], [1998.93, 1.6],
  [1999.02, 3.0], [1999.10, 3.0], [1999.18, 8.4], [1999.26, 6.1], [1999.35, 5.0], [1999.43, 1.8], [1999.51, 1.6], [1999.59, 2.7], [1999.67, 3.9], [1999.76, 3.9], [1999.85, 3.0], [1999.92, 5.2],
  [2000.01, 5.7], [2000.10, 5.0], [2000.18, 1.8], [2000.27, 13], [2000.35, 3.0], [2000.43, 13.6], [2000.51, 14.8], [2000.60, 14.3], [2000.69, 5.0], [2000.77, 3.9], [2000.85, 1.6], [2000.94, 1.6],
  [2001.02, 7.8], [2001.10, 11.2], [2001.17, 12.3], [2001.27, 6.9], [2001.35, 15.3], [2001.44, 6.6], [2001.52, 1.1], [2001.60, 2.7], [2001.69, 7.3], [2001.77, 6.2], [2001.85, 4.3], [2001.94, 8.5],
  [2002.02, 8.5], [2002.11, 18.7], [2002.19, 18.7], [2002.26, 34.7], [2002.34, 3.2], [2002.44, 3.9], [2002.52, 1.1], [2002.59, 0.5], [2002.68, 0.5], [2002.76, 0.9], [2002.85, 3.9], [2002.93, 2.1],
  [2003.02, 3.9], [2003.10, 15.8], [2003.19, 27.9], [2003.26, 5.0], [2003.34, 10.1], [2003.43, 8.5], [2003.52, 1.6], [2003.61, 0.9], [2003.69, 0.9], [2003.76, 18.7], [2003.85, 7.8], [2003.94, 5.5],
  [2004.02, 5.0], [2004.10, 6.6], [2004.18, 11.9], [2004.26, 7.8], [2004.35, 8.5], [2004.43, 2.7], [2004.51, 0.9], [2004.60, 3.2], [2004.68, 6.6], [2004.76, 2.3], [2004.84, 8.5], [2004.93, 12.3],
  [2005.02, 28.8], [2005.10, 43.2], [2005.18, 56], [2005.27, 12.3], [2005.35, 11.9], [2005.43, 19.9], [2005.52, 0.9], [2005.60, 0.5], [2005.68, 0.5], [2005.77, 0.5], [2005.85, 0.5], [2005.93, 8.1],
  [2006.03, 18.7], [2006.11, 35.8], [2006.16, 165], [2006.22, 115], [2006.27, 11.5], [2006.35, 7.6], [2006.44, 3.0], [2006.53, 1.4], [2006.61, 3.7], [2006.70, 4.6], [2006.78, 8.1], [2006.86, 9.7], [2006.95, 13.9],
  [2007.03, 6.5], [2007.11, 7.4], [2007.19, 6.9], [2007.28, 1.8], [2007.36, 1.2], [2007.45, 3.7], [2007.53, 1.4], [2007.61, 0.7], [2007.69, 4.8], [2007.78, 1.8], [2007.86, 1.8], [2007.95, 2.3],
  [2008.04, 4.6], [2008.13, 3.0], [2008.21, 6.0], [2008.29, 6.0], [2008.36, 5.3], [2008.45, 1.8], [2008.53, 1.2], [2008.62, 1.2], [2008.70, 1.2], [2008.78, 1.2], [2008.87, 2.3], [2008.95, 1.8],
  [2009.04, 2.3], [2009.13, 3.5], [2009.21, 9.2], [2009.29, 13.4], [2009.38, 27.9], [2009.46, 4.8], [2009.55, 1.8], [2009.64, 1.8], [2009.72, 7.6], [2009.80, 4.6], [2009.88, 5.3], [2009.96, 6.0],
  [2010.05, 12.2], [2010.13, 25.4], [2010.22, 26.8], [2010.29, 12.9], [2010.38, 11.8], [2010.46, 8.1], [2010.55, 1.8], [2010.64, 1.8], [2010.71, 7.2], [2010.81, 8.8], [2010.89, 1.8], [2010.96, 8.1],
];

// ---------- helpers ----------
function monthlyPoints(vals: number[], last: number): [number, number][] {
  const pts: [number, number][] = [[START_YEAR, vals[0]]];
  vals.forEach((v, i) => pts.push([START_YEAR + (i + 0.5) / 12, v]));
  pts.push([END_YEAR, last]);
  return pts;
}

const dsiSeries = [
  { color: BLUE, width: 4.2, pts: monthlyPoints(dsiCM1, dsiAxisEnd[0]) },
  { color: GREEN, width: 3.8, pts: monthlyPoints(dsiCM2, dsiAxisEnd[1]) },
  { color: RED, width: 3.6, pts: monthlyPoints(dsiCM3, dsiAxisEnd[2]) },
];
const diaSeries = [
  { color: BLUE, width: 4.2, pts: monthlyPoints(diaCM1, diaAxisEnd[0]) },
  { color: GREEN, width: 3.8, pts: monthlyPoints(diaCM2, diaAxisEnd[1]) },
  { color: RED, width: 3.6, pts: monthlyPoints(diaCM3, diaAxisEnd[2]) },
];

type PanelProps = {
  id: string;
  top: number;
  start: number;
  yMax: number;
  majors: number[];
  minors: number[];
  series: { color: string; width: number; pts: [number, number][] }[];
  obs: [number, number][];
};

function Panel({ id, top, start, yMax, majors, minors, series, obs }: PanelProps) {
  const bottom = top + PH;
  const x = d3.scaleLinear().domain([start, start + 10]).range([X0, X1]);
  const y = d3.scaleLinear().domain([0, yMax]).range([bottom, top]);
  const smooth = d3
    .line<[number, number]>()
    .x((d) => x(d[0]))
    .y((d) => y(d[1]))
    .curve(d3.curveMonotoneX);
  const straight = d3
    .line<[number, number]>()
    .x((d) => x(d[0]))
    .y((d) => y(d[1]));
  const shownObs = obs.filter((d) => d[0] >= start && d[0] <= start + 10 && d[1] <= yMax);
  const yearTicks = d3.range(start, start + 11);
  const yearMids = d3.range(start, start + 10);
  return (
    <g>
      <defs>
        <clipPath id={id}>
          <rect x={X0} y={top - 3} width={X1 - X0} height={PH + 12} />
        </clipPath>
        <clipPath id={`${id}-obs`}>
          <rect x={X0} y={top} width={X1 - X0} height={PH + 9} />
        </clipPath>
      </defs>
      <g clipPath={`url(#${id})`}>
        {series.map((s, i) => (
          <path
            key={i}
            d={smooth(s.pts) || ""}
            fill="none"
            stroke={s.color}
            strokeWidth={s.width}
            strokeLinejoin="round"
            strokeLinecap="round"
          />
        ))}
      </g>
      <g clipPath={`url(#${id}-obs)`}>
        <path d={straight(obs) || ""} fill="none" stroke={OBS} strokeWidth={1} strokeDasharray="3 3" />
      </g>
      {shownObs.map((d, i) => (
        <rect
          key={i}
          x={x(d[0]) - 3}
          y={y(d[1]) - 3}
          width={6}
          height={6}
          fill="#ffffff"
          stroke={OBS}
          strokeWidth={1.1}
        />
      ))}
      {/* y axis */}
      <line x1={X0} x2={X0} y1={top} y2={bottom} stroke="#000" strokeWidth={1.3} />
      {majors.map((t) => (
        <g key={`M${t}`}>
          <line x1={X0 - 7} x2={X0} y1={y(t)} y2={y(t)} stroke="#000" strokeWidth={1.3} />
          <text x={X0 - 9} y={y(t)} dy="0.34em" textAnchor="end" fontSize={19.5} fontFamily={FONT}>
            {t}
          </text>
        </g>
      ))}
      {minors.map((t) => (
        <line key={`m${t}`} x1={X0 - 4} x2={X0} y1={y(t)} y2={y(t)} stroke="#000" strokeWidth={1.2} />
      ))}
      {/* x axis */}
      <line x1={X0} x2={X1} y1={bottom} y2={bottom} stroke="#000" strokeWidth={1.3} />
      {yearTicks.map((t) => (
        <line key={`t${t}`} x1={x(t)} x2={x(t)} y1={bottom} y2={bottom + 7} stroke="#000" strokeWidth={1.3} />
      ))}
      {yearMids.map((t) => (
        <text key={`l${t}`} x={x(t + 0.5)} y={bottom + 24.5} textAnchor="middle" fontSize={19.5} fontFamily={FONT}>
          {t}
        </text>
      ))}
    </g>
  );
}

function Legend({ titleY, obsLineY, obsTextY, obsX0, obsX1, obsTextX, cmX0, cmX1, cmTextX, cmLineYs, cmTextYs }: any) {
  const cmColors = [BLUE, GREEN, RED];
  const cmNames = ["calculated (CM1)", "calculated (CM2)", "calculated (CM3)"];
  return (
    <g fontFamily={FONT}>
      <text x={111} y={titleY} fontSize={24.5} fontWeight="bold">
        BOX3 (including the center of the lake)
      </text>
      <line x1={obsX0} x2={obsX1} y1={obsLineY} y2={obsLineY} stroke={OBS} strokeWidth={1} strokeDasharray="3 3" />
      <rect x={(obsX0 + obsX1) / 2 - 3} y={obsLineY - 3} width={6} height={6} fill="#fff" stroke={OBS} strokeWidth={1.1} />
      <text x={obsTextX} y={obsTextY} fontSize={24.5}>
        observed at site C
      </text>
      {cmColors.map((c, i) => (
        <g key={i}>
          <line x1={cmX0} x2={cmX1} y1={cmLineYs[i]} y2={cmLineYs[i]} stroke={c} strokeWidth={4} />
          <text x={cmTextX} y={cmTextYs[i]} fontSize={24.5}>
            {cmNames[i]}
          </text>
        </g>
      ))}
    </g>
  );
}

export default function App() {
  return (
    <div style={{ position: "absolute", left: 0, top: 0, width: W, height: H, background: "#fff" }}>
      <svg width={W} height={H} viewBox={`0 0 ${W} ${H}`} style={{ display: "block" }}>
        <rect x={0} y={0} width={W} height={H} fill="#fff" />
        {decadeStarts.map((s, i) => (
          <Panel
            key={`dsi${s}`}
            id={`clip-dsi-${s}`}
            top={dsiPanelTops[i]}
            start={s}
            yMax={12}
            majors={dsiTicks}
            minors={dsiMinorTicks}
            series={dsiSeries}
            obs={dsiObs}
          />
        ))}
        {decadeStarts.map((s, i) => (
          <Panel
            key={`dia${s}`}
            id={`clip-dia-${s}`}
            top={diaPanelTops[i]}
            start={s}
            yMax={80}
            majors={diaTicks}
            minors={diaMinorTicks}
            series={diaSeries}
            obs={diaObs}
          />
        ))}
        <Legend
          titleY={33}
          obsLineY={22.5}
          obsTextY={30.5}
          obsX0={612}
          obsX1={667}
          obsTextX={675}
          cmX0={895}
          cmX1={951}
          cmTextX={959}
          cmLineYs={[21, 51, 81]}
          cmTextYs={[29.5, 59.5, 89.5]}
        />
        <Legend
          titleY={523}
          obsLineY={512}
          obsTextY={520}
          obsX0={602}
          obsX1={658}
          obsTextX={665}
          cmX0={886}
          cmX1={941}
          cmTextX={948}
          cmLineYs={[511, 541.5, 572]}
          cmTextYs={[520, 551, 582]}
        />
        {/* y-axis titles */}
        <text
          transform="translate(35.5,232) rotate(-90)"
          textAnchor="middle"
          fontFamily={FONT}
          fontWeight="bold"
          fontSize={24.5}
        >
          DSi concentration (g m
          <tspan fontSize={15} dy={-9}>-3</tspan>
          <tspan dy={9}>)</tspan>
        </text>
        <text
          transform="translate(35.5,720) rotate(-90)"
          textAnchor="middle"
          fontFamily={FONT}
          fontWeight="bold"
          fontSize={24.5}
        >
          Diatom abundance (cm
          <tspan fontSize={15} dy={-9}>3</tspan>
          <tspan dy={9}> m</tspan>
          <tspan fontSize={15} dy={-9}>-3</tspan>
          <tspan dy={9}>)</tspan>
        </text>
      </svg>
    </div>
  );
}
